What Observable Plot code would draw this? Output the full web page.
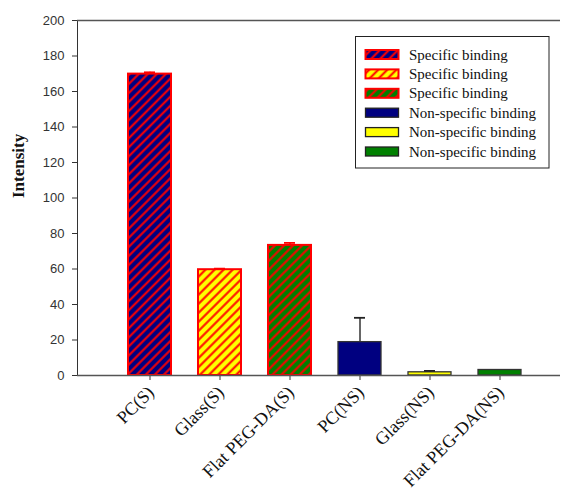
<!DOCTYPE html>
<html><head><meta charset="utf-8">
<script src="https://cdn.jsdelivr.net/npm/d3@7"></script>
<script src="https://cdn.jsdelivr.net/npm/@observablehq/plot@0.6"></script>
<style>body{margin:0;background:#fff}</style>
</head><body><div id="chart"></div>
<script>
const categories = ["PC(S)", "Glass(S)", "Flat PEG-DA(S)", "PC(NS)", "Glass(NS)", "Flat PEG-DA(NS)"];
const intensity = [169.8, 59.6, 73.3, 18.8, 1.8, 3.1];
const errorPlus = [1.0, 0.6, 1.4, 13.7, 0.8, 0];
const groups = ["S", "S", "S", "NS", "NS", "NS"];
const yTicks = [0, 20, 40, 60, 80, 100, 120, 140, 160, 180, 200];
const legendLabels = ["Specific binding", "Specific binding", "Specific binding",
  "Non-specific binding", "Non-specific binding", "Non-specific binding"];
const yLabel = "Intensity";

// styles
const baseColors = ["#000080", "#ffff00", "#008000"];
const fillFor = i => i < 3 ? `url(#stripe${i})` : baseColors[i - 3];
const serif = "'Liberation Serif', 'Times New Roman', serif";

const data = categories.map((c, i) => ({category: c, value: intensity[i], err: errorPlus[i], group: groups[i], idx: i}));
const withErr = data.filter(d => d.err > 0);

const plot = Plot.plot({
  width: 563,
  height: 496,
  marginLeft: 77,
  marginRight: 3,
  marginTop: 20,
  marginBottom: 121,
  style: {fontFamily: "'Liberation Sans', Arial, sans-serif", fontSize: "13px", color: "#333", background: "#fff"},
  x: {domain: categories, range: [112.7, 536.3], paddingInner: 0.39, paddingOuter: 0.195, tickSize: 5, tickFormat: () => "", label: null},
  y: {domain: [0, 200], ticks: yTicks.length - 1, tickSize: 5, tickPadding: 8, label: null, line: true},
  color: {type: "identity"},
  marks: [
    Plot.barY(data.filter(d => d.group === "S"), {x: "category", y: "value", fill: d => fillFor(d.idx), stroke: "#ff0000", strokeWidth: 2}),
    Plot.barY(data.filter(d => d.group === "NS"), {x: "category", y: "value", fill: d => fillFor(d.idx), stroke: "#333", strokeWidth: 1.3}),
    Plot.ruleX(withErr, {x: "category", y1: "value", y2: d => d.value + d.err, stroke: d => d.group === "S" ? "#ff0000" : "#333", strokeWidth: 1.5}),
    Plot.tickY(withErr, {x: "category", y: d => d.value + d.err, insetLeft: 16, insetRight: 16, stroke: d => d.group === "S" ? "#ff0000" : "#222", strokeWidth: 1.8}),
    Plot.ruleY([0, 200], {stroke: "#555", strokeWidth: 1.5}),
    Plot.text(categories, {x: d => d, frameAnchor: "bottom", textAnchor: "end", lineAnchor: "top", rotate: -45, dx: -4, dy: 9, fontFamily: serif, fontSize: 18, fill: "#111"}),
    Plot.text([yLabel], {frameAnchor: "left", dx: -59, rotate: -90, fontFamily: serif, fontSize: 17, fontWeight: "bold", fill: "#111"})
  ]
});

const svg = d3.select(plot);
const defs = svg.insert("defs", ":first-child");
baseColors.forEach((c, i) => {
  const p = defs.append("pattern").attr("id", `stripe${i}`).attr("patternUnits", "userSpaceOnUse")
    .attr("width", 6.4).attr("height", 6.4).attr("patternTransform", "rotate(45)");
  p.append("rect").attr("width", 6.4).attr("height", 6.4).attr("fill", c);
  p.append("line").attr("x1", 3.2).attr("y1", 0).attr("x2", 3.2).attr("y2", 6.4).attr("stroke", "#ff0000").attr("stroke-width", 2);
});
svg.selectAll("[aria-label='y-axis domain'], [aria-label='y-axis line']").attr("stroke-width", 1.5).attr("stroke", "#555");

// legend
const lg = svg.append("g").style("text-anchor", "start");
lg.append("rect").attr("x", 355.5).attr("y", 36.5).attr("width", 193.5).attr("height", 131.5).attr("fill", "#fff").attr("stroke", "#222");
legendLabels.forEach((t, i) => {
  const cy = 54.5 + i * 19.4;
  lg.append("rect").attr("x", 365.5).attr("y", cy - 4.5).attr("width", 33).attr("height", 9)
    .attr("fill", fillFor(i)).attr("stroke", i < 3 ? "#ff0000" : "#222").attr("stroke-width", i < 3 ? 2 : 1.3);
  lg.append("text").attr("x", 409).attr("y", cy + 5)
    .style("font-family", serif).style("font-size", "15px").style("text-anchor", "start")
    .attr("fill", "#111").text(t);
});

document.getElementById("chart").appendChild(plot);
</script>
</body></html>
